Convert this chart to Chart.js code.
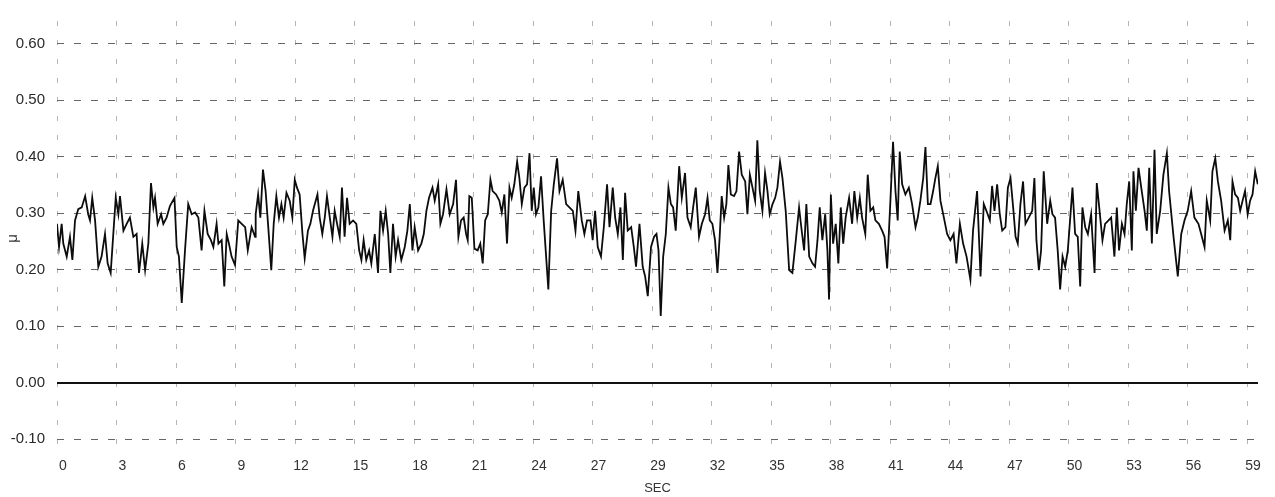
<!DOCTYPE html>
<html>
<head>
<meta charset="utf-8">
<script src="https://cdn.jsdelivr.net/npm/chart.js@4"></script>
<style>
  html, body { margin: 0; padding: 0; background: #fff; }
  #wrap { width: 1275px; height: 497px; }
</style>
</head>
<body>
<div id="wrap"><canvas id="muChart" width="1275" height="497"></canvas></div>
<script>
/* friction coefficient trace */
const secs = [
  0.00,0.10,0.23,0.31,0.48,0.64,0.76,0.89,1.05,1.22,1.39,1.54,1.63,1.74,1.88,2.04,2.20,2.37,2.50,2.65,
  2.78,2.90,3.03,3.11,3.28,3.44,3.60,3.77,3.93,4.05,4.21,4.35,4.51,4.64,4.76,4.84,4.97,5.14,5.25,5.41,
  5.58,5.80,5.91,6.02,6.16,6.32,6.48,6.65,6.82,6.98,7.14,7.28,7.44,7.60,7.72,7.88,7.97,8.13,8.26,8.38,
  8.49,8.62,8.79,8.95,9.12,9.29,9.42,9.61,9.78,
  9.81,9.93,10.04,10.17,10.30,10.42,10.58,10.70,10.83,10.96,11.08,11.19,11.33,11.49,11.62,11.74,11.85,11.98,12.12,12.23,
  12.39,12.51,12.64,12.86,12.97,13.10,13.22,13.33,13.47,13.60,13.71,13.83,13.96,14.07,14.20,14.32,14.45,14.62,14.78,14.92,
  15.03,15.14,15.27,15.41,15.52,15.69,15.85,15.97,16.10,16.23,16.35,16.46,16.59,16.72,16.84,17.00,17.17,17.30,17.42,17.55,
  17.66,17.83,17.99,18.11,18.24,18.37,18.54,18.65,18.82,18.93,19.06,19.23,19.39,19.56,
  19.70,19.82,19.95,20.08,20.20,20.28,20.36,20.48,20.61,20.77,20.90,21.02,21.14,21.27,21.40,21.51,21.68,21.84,21.96,22.09,
  22.22,22.34,22.45,22.58,22.72,22.83,22.95,23.08,23.21,23.33,23.44,23.54,23.65,23.77,23.90,24.03,24.26,24.40,24.53,24.69,
  24.81,24.97,25.14,25.30,25.47,25.60,25.74,25.91,26.04,26.17,26.34,26.45,26.57,26.70,26.86,27.00,27.16,27.28,27.44,27.56,
  27.69,27.82,27.94,28.05,28.18,28.35,28.48,28.59,28.76,28.92,29.04,29.17,29.33,
  29.48,29.60,29.70,29.81,29.93,30.06,30.19,30.31,30.42,30.55,30.72,30.85,31.01,31.13,31.29,31.41,31.54,31.70,31.84,32.00,
  32.12,32.23,32.36,32.49,32.61,32.72,32.82,32.94,33.05,33.15,33.27,33.43,33.55,33.68,33.81,33.98,34.09,34.21,34.34,34.47,
  34.58,34.70,34.83,34.96,35.08,35.19,35.33,35.46,35.57,35.70,35.82,35.98,36.15,36.31,36.48,36.64,36.77,36.89,37.00,37.14,
  37.30,37.43,37.55,37.66,37.79,37.93,38.04,38.12,38.21,38.32,38.45,38.58,38.70,38.82,38.94,39.11,
  39.14,39.26,39.37,39.51,39.64,39.75,39.91,40.03,40.16,40.30,40.41,40.58,40.74,40.86,40.99,41.15,41.28,41.40,41.51,41.61,
  41.73,41.89,42.06,42.22,42.39,42.50,42.63,42.77,42.88,43.00,43.13,43.26,43.37,43.49,43.62,43.79,43.95,44.11,44.27,44.41,
  44.58,44.74,44.91,45.10,45.23,45.43,45.60,45.76,45.89,46.06,46.17,46.29,46.42,46.55,46.67,46.83,46.95,47.08,47.21,47.33,
  47.44,47.57,47.70,47.82,47.98,48.15,48.26,48.36,48.48,48.59,48.72,48.89,
  49.04,49.15,49.28,49.41,49.53,49.65,49.78,49.91,50.02,50.14,50.27,50.40,50.52,50.63,50.77,50.90,51.06,51.23,51.34,51.46,
  51.62,51.75,51.92,52.05,52.21,52.33,52.44,52.58,52.71,52.82,52.94,53.07,53.15,53.27,53.40,53.56,53.70,53.81,53.93,54.06,
  54.19,54.30,54.47,54.63,54.80,54.91,55.13,55.34,55.51,55.67,55.83,56.00,56.16,56.36,56.53,56.66,56.77,56.94,57.05,57.19,
  57.32,57.48,57.65,57.81,57.93,58.04,58.17,58.31,58.42,58.54,58.66,58.79,58.91,59.03,59.16,59.29
]

const mu = [
  0.281,0.240,0.281,0.246,0.223,0.258,0.217,0.287,0.307,0.310,0.330,0.298,0.287,0.327,0.287,0.205,0.223,0.263,0.211,0.194,
  0.263,0.327,0.298,0.330,0.269,0.281,0.292,0.258,0.263,0.194,0.246,0.199,0.246,0.353,0.310,0.327,0.281,0.298,0.281,0.292,
  0.313,0.327,0.240,0.223,0.141,0.234,0.316,0.298,0.301,0.292,0.234,0.304,0.263,0.252,0.240,0.281,0.246,0.252,0.170,0.263,
  0.246,0.223,0.208,0.287,0.281,0.275,0.234,0.275,0.258,
  0.298,0.333,0.292,0.377,0.339,0.281,0.199,0.281,0.330,0.292,0.316,0.292,0.336,0.322,0.292,0.359,0.345,0.333,0.263,0.220,
  0.269,0.281,0.304,0.333,0.292,0.263,0.292,0.330,0.292,0.258,0.304,0.281,0.258,0.345,0.258,0.327,0.281,0.287,0.281,0.234,
  0.217,0.252,0.217,0.234,0.211,0.263,0.194,0.304,0.269,0.304,0.263,0.194,0.281,0.223,0.252,0.217,0.240,0.269,0.316,0.234,
  0.275,0.234,0.246,0.263,0.304,0.327,0.345,0.322,0.351,0.281,0.298,0.342,0.298,0.316,
  0.359,0.258,0.287,0.292,0.263,0.252,0.330,0.327,0.237,0.234,0.246,0.211,0.287,0.298,0.359,0.339,0.333,0.322,0.301,0.333,
  0.246,0.345,0.327,0.351,0.391,0.362,0.316,0.345,0.351,0.406,0.304,0.345,0.298,0.310,0.365,0.287,0.165,0.304,0.351,0.397,
  0.339,0.359,0.316,0.310,0.304,0.269,0.339,0.287,0.263,0.287,0.287,0.252,0.304,0.240,0.223,0.275,0.351,0.275,0.345,0.292,
  0.263,0.310,0.217,0.336,0.269,0.275,0.240,0.205,0.281,0.205,0.188,0.153,0.240,
  0.258,0.263,0.234,0.118,0.223,0.263,0.345,0.316,0.310,0.269,0.383,0.327,0.371,0.292,0.275,0.310,0.345,0.258,0.281,0.298,
  0.327,0.287,0.281,0.252,0.194,0.258,0.330,0.292,0.316,0.385,0.333,0.330,0.339,0.409,0.368,0.356,0.298,0.368,0.345,0.322,
  0.429,0.339,0.304,0.371,0.339,0.298,0.316,0.327,0.345,0.391,0.362,0.304,0.199,0.194,0.252,0.310,0.269,0.234,0.316,0.223,
  0.211,0.205,0.252,0.310,0.252,0.298,0.234,0.147,0.333,0.246,0.281,0.211,0.310,0.246,0.292,0.327,
  0.327,0.281,0.339,0.292,0.327,0.292,0.263,0.368,0.304,0.310,0.287,0.281,0.269,0.258,0.202,0.322,0.426,0.339,0.287,0.409,
  0.351,0.333,0.345,0.316,0.275,0.292,0.322,0.362,0.417,0.316,0.316,0.339,0.362,0.383,0.322,0.292,0.263,0.252,0.263,0.211,
  0.281,0.246,0.223,0.182,0.269,0.339,0.188,0.316,0.304,0.287,0.348,0.304,0.351,0.298,0.269,0.275,0.345,0.362,0.310,0.258,
  0.246,0.316,0.356,0.281,0.292,0.304,0.362,0.252,0.199,0.234,0.374,0.281,
  0.322,0.298,0.292,0.234,0.165,0.223,0.205,0.234,0.287,0.345,0.263,0.258,0.170,0.310,0.275,0.263,0.298,0.194,0.353,0.310,
  0.252,0.281,0.287,0.292,0.223,0.310,0.234,0.281,0.263,0.316,0.356,0.234,0.374,0.304,0.380,0.339,0.304,0.269,0.380,0.246,
  0.412,0.263,0.304,0.368,0.406,0.339,0.258,0.188,0.263,0.287,0.304,0.339,0.292,0.281,0.258,0.240,0.322,0.287,0.374,0.397,
  0.356,0.322,0.269,0.287,0.252,0.356,0.333,0.327,0.304,0.322,0.339,0.298,0.322,0.333,0.374,0.351
]

/* axis labels as printed (20 divisions of the 59 s run) */
let secLabels = ['0', '3', '6', '9', '12', '15', '18', '21', '24', '27', '29',
                 '32', '35', '38', '41', '44', '47', '50', '53', '56', '59']
let muTicks = [-0.10, 0.00, 0.10, 0.20, 0.30, 0.40, 0.50, 0.60]
let muLabels = ['-0.10', '0.00', '0.10', '0.20', '0.30', '0.40', '0.50', '0.60']

const SEC_STEP = 2.938
const FONT = 'Liberation Sans, Arial, sans-serif'

let ctx = document.querySelector('#muChart').getContext('2d')

let dados = {
    datasets: [
        {
            data: secs.map((s, i) => ({ x: s, y: mu[i] })),
            borderColor: '#0c0c0c',
            borderWidth: 1.8,
            pointRadius: 0,
            tension: 0,
            fill: false
        }
    ]
}

let opcoes = {
    responsive: false,
    animation: false,
    layout: { padding: { top: 12, right: 17, left: 0, bottom: 0 } },
    plugins: {
        legend: { display: false },
        tooltip: { enabled: false }
    },
    scales: {
        x: {
            type: 'linear',
            min: 0,
            max: 59.3,
            afterBuildTicks: (scale) => {
                scale.ticks = secLabels.map((l, i) => ({ value: i * SEC_STEP }))
            },
            afterFit: (scale) => { scale.height = 41 },
            ticks: {
                autoSkip: false,
                maxRotation: 0,
                padding: 2,
                labelOffset: 6,
                color: '#333',
                font: { family: FONT, size: 14 },
                callback: (v, i) => secLabels[i]
            },
            grid: {
                color: '#b4b4b4',
                lineWidth: 1,
                drawTicks: false
            },
            border: { display: false, dash: [5, 14] },
            title: {
                display: true,
                text: 'SEC',
                color: '#333',
                font: { family: FONT, size: 13 },
                padding: { top: 0, bottom: 1 }
            }
        },
        y: {
            min: -0.13,
            max: 0.64,
            afterBuildTicks: (scale) => {
                scale.ticks = muTicks.map(v => ({ value: v }))
            },
            afterFit: (scale) => { scale.width = 57 },
            ticks: {
                padding: 12,
                color: '#2a2a2a',
                font: { family: FONT, size: 15 },
                callback: (v, i) => muLabels[i]
            },
            grid: {
                color: (c) => (c.tick && c.tick.value === 0) ? '#111' : '#666',
                lineWidth: (c) => (c.tick && c.tick.value === 0) ? 2 : 1,
                drawTicks: false
            },
            border: {
                display: false,
                dash: (c) => (c.tick && c.tick.value === 0) ? [] : [7, 10]
            },
            title: {
                display: true,
                text: 'μ',
                color: '#333',
                font: { family: FONT, size: 15 },
                padding: { top: 4, bottom: 0 }
            }
        }
    }
}

let muChart = new Chart(ctx, {
    type: 'line',
    data: dados,
    options: opcoes
})
</script>
</body>
</html>
